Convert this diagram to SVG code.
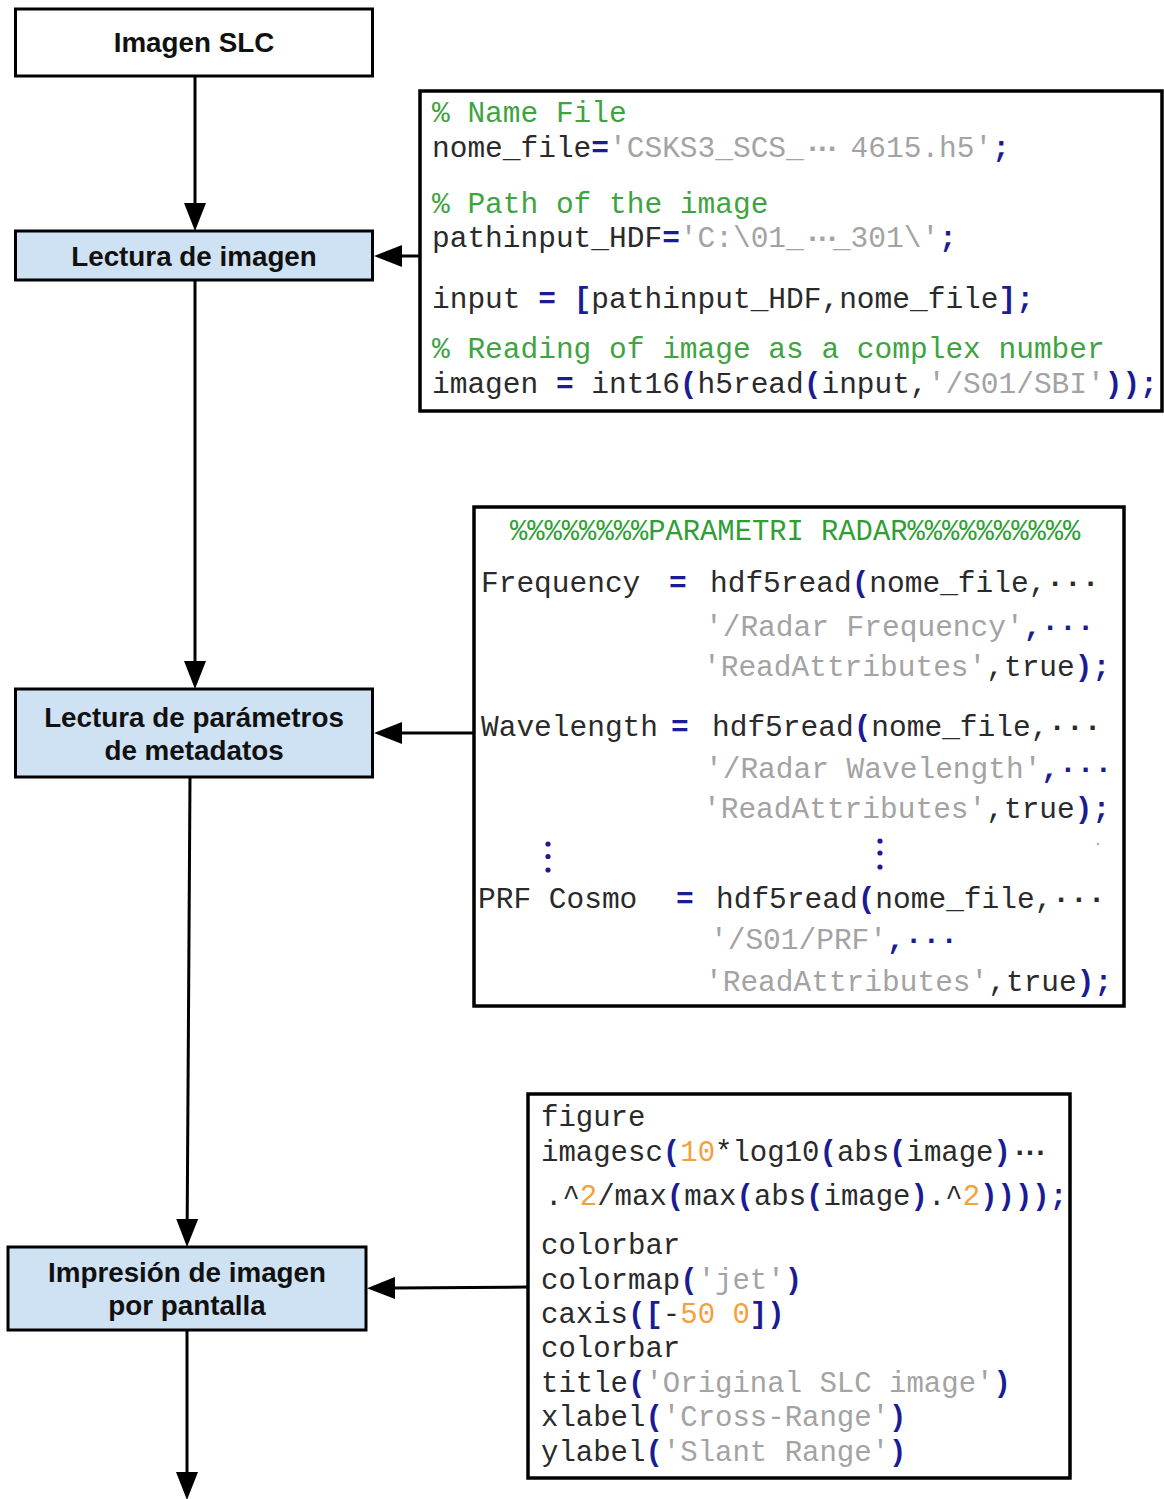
<svg xmlns="http://www.w3.org/2000/svg" width="1164" height="1499" viewBox="0 0 1164 1499">
  <style>
    .node { stroke: #000; stroke-width: 3; }
    .start { fill: #ffffff; }
    .step { fill: #cfe2f3; }
    .label { font-family: "Liberation Sans", Arial, sans-serif; font-weight: bold; font-size: 27.8px; fill: #111; text-anchor: middle; }
    .codebox { fill: #ffffff; stroke: #000; stroke-width: 3.5; }
    .code { font-family: "Liberation Mono", "DejaVu Sans Mono", monospace; font-size: 29.5px; fill: #2a2a2a; white-space: pre; }
    .cm { fill: #3fa33f; }
    .hd { fill: #2f9e35; }
    .st { fill: #a3a3a3; }
    .op { fill: #1b1b94; font-weight: bold; }
    .nm { fill: #f4a03c; }
    .dots { letter-spacing: -8px; font-weight: bold; }
    .conn { stroke: #000; stroke-width: 3; fill: none; }
  </style>
  <defs>
    <marker id="head" markerUnits="userSpaceOnUse" markerWidth="28" markerHeight="22" refX="0" refY="11" orient="auto">
      <path d="M0,0 L28,11 L0,22 z" fill="#000"/>
    </marker>
  </defs>

  <rect width="1164" height="1499" fill="#ffffff"/>

  <!-- connectors -->
  <g id="connectors">
    <line class="conn" x1="195" y1="76" x2="195" y2="203" marker-end="url(#head)"/>
    <line class="conn" x1="195" y1="281" x2="195" y2="661" marker-end="url(#head)"/>
    <line class="conn" x1="190" y1="777" x2="187.2" y2="1219" marker-end="url(#head)"/>
    <line class="conn" x1="187" y1="1331" x2="187" y2="1472" marker-end="url(#head)"/>
    <line class="conn" x1="420" y1="256" x2="402" y2="256" marker-end="url(#head)"/>
    <line class="conn" x1="474" y1="733" x2="402" y2="733" marker-end="url(#head)"/>
    <line class="conn" x1="528" y1="1287" x2="395" y2="1288" marker-end="url(#head)"/>
  </g>

  <!-- flow nodes -->
  <g id="imagen-slc">
    <rect class="node start" x="15.5" y="9" width="357" height="67"/>
    <text class="label" x="194" y="52">Imagen SLC</text>
  </g>
  <g id="lectura-imagen">
    <rect class="node step" x="15.5" y="231" width="357" height="49"/>
    <text class="label" x="194" y="266">Lectura de imagen</text>
  </g>
  <g id="lectura-parametros">
    <rect class="node step" x="15.5" y="689" width="357" height="88"/>
    <text class="label" x="194" y="727">Lectura de parámetros</text>
    <text class="label" x="194" y="760">de metadatos</text>
  </g>
  <g id="impresion-imagen">
    <rect class="node step" x="8" y="1247" width="358" height="83"/>
    <text class="label" x="187" y="1282">Impresión de imagen</text>
    <text class="label" x="187" y="1315">por pantalla</text>
  </g>

  <!-- code: reading the image -->
  <g id="code-lectura">
    <rect class="codebox" x="420" y="91" width="742" height="320"/>
    <text class="code" x="432" y="122"><tspan class="cm">% Name File</tspan></text>
    <text class="code" x="432" y="157">nome_file<tspan class="op">=</tspan><tspan class="st">'CSKS3_SCS_<tspan class="dots">···</tspan> 4615.h5'</tspan><tspan class="op">;</tspan></text>
    <text class="code" x="432" y="213"><tspan class="cm">% Path of the image</tspan></text>
    <text class="code" x="432" y="247">pathinput_HDF<tspan class="op">=</tspan><tspan class="st">'C:\01_<tspan class="dots">···</tspan>_301\'</tspan><tspan class="op">;</tspan></text>
    <text class="code" x="432" y="308">input <tspan class="op">=</tspan> <tspan class="op">[</tspan>pathinput_HDF,nome_file<tspan class="op">];</tspan></text>
    <text class="code" x="432" y="358"><tspan class="cm">% Reading of image as a complex number</tspan></text>
    <text class="code" x="432" y="393">imagen <tspan class="op">=</tspan> int16<tspan class="op">(</tspan>h5read<tspan class="op">(</tspan>input,<tspan class="st">'/S01/SBI'</tspan><tspan class="op">));</tspan></text>
  </g>

  <!-- code: radar metadata parameters -->
  <g id="code-parametros">
    <rect class="codebox" x="474" y="507" width="650" height="499"/>
    <text class="code hd" x="510" y="540" style="font-size:28.8px">%%%%%%%%PARAMETRI RADAR%%%%%%%%%%</text>

    <text class="code" x="481" y="592">Frequency</text>
    <text class="code op" x="669" y="592">=</text>
    <text class="code" x="710" y="592">hdf5read<tspan class="op">(</tspan>nome_file,<tspan font-weight="bold">···</tspan></text>
    <text class="code" x="705" y="636"><tspan class="st">'/Radar Frequency'</tspan><tspan class="op">,···</tspan></text>
    <text class="code" x="703" y="676"><tspan class="st">'ReadAttributes'</tspan>,true<tspan class="op">);</tspan></text>

    <text class="code" x="481" y="736">Wavelength</text>
    <text class="code op" x="671" y="736">=</text>
    <text class="code" x="712" y="736">hdf5read<tspan class="op">(</tspan>nome_file,<tspan font-weight="bold">···</tspan></text>
    <text class="code" x="705" y="778"><tspan class="st">'/Radar Wavelength'</tspan><tspan class="op">,···</tspan></text>
    <text class="code" x="703" y="818"><tspan class="st">'ReadAttributes'</tspan>,true<tspan class="op">);</tspan></text>

    <g fill="#1b1b94">
      <circle cx="548" cy="844" r="2.6"/>
      <circle cx="548" cy="856.5" r="2.6"/>
      <circle cx="548" cy="870" r="2.6"/>
      <circle cx="880" cy="841" r="2.6"/>
      <circle cx="880" cy="853" r="2.6"/>
      <circle cx="880" cy="867" r="2.6"/>
    </g>
    <circle cx="1098" cy="844" r="1.2" fill="#b59ad6"/>

    <text class="code" x="478" y="908">PRF Cosmo</text>
    <text class="code op" x="676" y="908">=</text>
    <text class="code" x="716" y="908">hdf5read<tspan class="op">(</tspan>nome_file,<tspan font-weight="bold">···</tspan></text>
    <text class="code" x="710" y="949"><tspan class="st">'/S01/PRF'</tspan><tspan class="op">,···</tspan></text>
    <text class="code" x="705" y="991"><tspan class="st">'ReadAttributes'</tspan>,true<tspan class="op">);</tspan></text>
  </g>

  <!-- code: displaying the image -->
  <g id="code-impresion">
    <rect class="codebox" x="528" y="1094" width="542" height="384"/>
    <text class="code" x="541" y="1126" style="font-size:29px">figure</text>
    <text class="code" x="541" y="1161" style="font-size:29px">imagesc<tspan class="op">(</tspan><tspan class="nm">10</tspan>*log10<tspan class="op">(</tspan>abs<tspan class="op">(</tspan>image<tspan class="op">)</tspan><tspan class="dots" style="letter-spacing:-7px">···</tspan></text>
    <text class="code" x="545" y="1205" style="font-size:29px">.^<tspan class="nm">2</tspan>/max<tspan class="op">(</tspan>max<tspan class="op">(</tspan>abs<tspan class="op">(</tspan>image<tspan class="op">)</tspan>.^<tspan class="nm">2</tspan><tspan class="op">))));</tspan></text>
    <text class="code" x="541" y="1254" style="font-size:29px">colorbar</text>
    <text class="code" x="541" y="1289" style="font-size:29px">colormap<tspan class="op">(</tspan><tspan class="st">'jet'</tspan><tspan class="op">)</tspan></text>
    <text class="code" x="541" y="1323" style="font-size:29px">caxis<tspan class="op">([</tspan>-<tspan class="nm">50 0</tspan><tspan class="op">])</tspan></text>
    <text class="code" x="541" y="1357" style="font-size:29px">colorbar</text>
    <text class="code" x="541" y="1392" style="font-size:29px">title<tspan class="op">(</tspan><tspan class="st">'Original SLC image'</tspan><tspan class="op">)</tspan></text>
    <text class="code" x="541" y="1426" style="font-size:29px">xlabel<tspan class="op">(</tspan><tspan class="st">'Cross-Range'</tspan><tspan class="op">)</tspan></text>
    <text class="code" x="541" y="1461" style="font-size:29px">ylabel<tspan class="op">(</tspan><tspan class="st">'Slant Range'</tspan><tspan class="op">)</tspan></text>
  </g>
</svg>
